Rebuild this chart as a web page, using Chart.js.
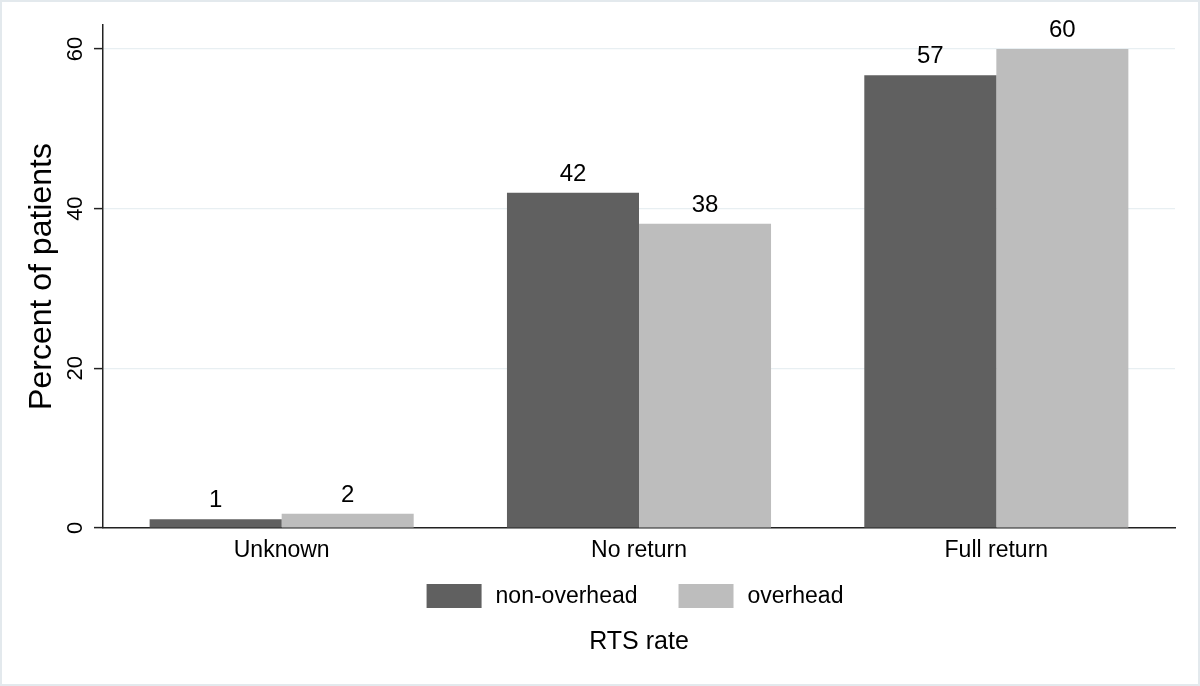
<!DOCTYPE html>
<html>
<head>
<meta charset="utf-8">
<script src="https://cdn.jsdelivr.net/npm/chart.js@4/dist/chart.umd.min.js"></script>
<style>
  html, body { margin: 0; padding: 0; background: #fff; }
</style>
</head>
<body>
<canvas id="rtsChart" width="1200" height="686"></canvas>
<script>
// RTS rate by group, percent of patients
const categories = ["Unknown", "No return", "Full return"];
const nonOverhead = [1.1, 42.0, 56.7];
const overhead = [1.8, 38.1, 60.0];
const yTicks = [0, 20, 40, 60];

const darkGrey = "#606060";
const lightGrey = "#bdbdbd";
const fontFamily = "'Liberation Sans', Arial, Helvetica, sans-serif";

Chart.defaults.font.family = fontFamily;
Chart.defaults.color = "#000";

// value labels above bars, rotated y tick labels, legend and frame
const extrasPlugin = {
    id: "extras",
    beforeDraw(chart) {
        const ctx = chart.ctx;
        ctx.save();
        ctx.strokeStyle = "#e3e9ed";
        ctx.lineWidth = 2;
        ctx.strokeRect(1, 1, chart.width - 2, chart.height - 2);
        ctx.restore();
    },
    afterDraw(chart) {
        const ctx = chart.ctx;
        const yScale = chart.scales.y;
        const area = chart.chartArea;

        // y tick labels, reading bottom to top
        ctx.save();
        ctx.font = "22px " + fontFamily;
        ctx.fillStyle = "#000";
        ctx.textAlign = "center";
        ctx.textBaseline = "middle";
        yScale.ticks.forEach(function (t) {
            const py = yScale.getPixelForValue(t.value);
            ctx.save();
            ctx.translate(area.left - 27, py);
            ctx.rotate(-Math.PI / 2);
            ctx.fillText(String(t.value), 0, 0);
            ctx.restore();
        });
        ctx.restore();

        // value labels
        ctx.save();
        ctx.font = "24px " + fontFamily;
        ctx.fillStyle = "#000";
        ctx.textAlign = "center";
        ctx.textBaseline = "alphabetic";
        chart.data.datasets.forEach(function (ds, i) {
            chart.getDatasetMeta(i).data.forEach(function (bar, j) {
                ctx.fillText(String(Math.round(ds.data[j])), bar.x, bar.y - 12);
            });
        });
        ctx.restore();

        // legend
        ctx.save();
        ctx.font = "23px " + fontFamily;
        ctx.textBaseline = "middle";
        ctx.textAlign = "left";
        const boxW = 55, boxH = 24, boxGap = 14, itemGap = 41;
        const items = chart.data.datasets.map(function (ds) {
            return { text: ds.label, color: ds.backgroundColor, w: ctx.measureText(ds.label).width };
        });
        let total = 0;
        items.forEach(function (it, k) { total += boxW + boxGap + it.w + (k > 0 ? itemGap : 0); });
        let lx = (area.left + area.right) / 2 - total / 2 - 4;
        const ly = area.bottom + 68;
        items.forEach(function (it) {
            ctx.fillStyle = it.color;
            ctx.fillRect(lx, ly - boxH / 2, boxW, boxH);
            ctx.fillStyle = "#000";
            ctx.fillText(it.text, lx + boxW + boxGap, ly + 1);
            lx += boxW + boxGap + it.w + itemGap;
        });
        ctx.restore();
    }
};

new Chart(document.getElementById("rtsChart"), {
    type: "bar",
    data: {
        labels: categories,
        datasets: [{
            label: "non-overhead",
            data: nonOverhead,
            backgroundColor: darkGrey
        },
        {
            label: "overhead",
            data: overhead,
            backgroundColor: lightGrey
        }]
    },
    options: {
        responsive: false,
        animation: false,
        devicePixelRatio: 1,
        categoryPercentage: 0.739,
        barPercentage: 1.0,
        layout: { padding: { top: 25, right: 25, left: 0, bottom: 0 } },
        plugins: {
            legend: { display: false },
            tooltip: { enabled: false }
        },
        scales: {
            x: {
                grid: { display: false, drawTicks: false, tickLength: 0 },
                border: { display: true, color: "#222", width: 1.5 },
                ticks: { font: { size: 23 }, color: "#000", padding: 9, maxRotation: 0 },
                title: {
                    display: true,
                    text: "RTS rate",
                    font: { size: 25 },
                    color: "#000",
                    padding: { top: 0, bottom: 29 }
                },
                afterFit: function (scale) { scale.height = 158; }
            },
            y: {
                min: 0,
                max: 63,
                afterBuildTicks: function (scale) {
                    scale.ticks = yTicks.map(function (v) { return { value: v }; });
                },
                grid: {
                    color: "#e8eff2",
                    lineWidth: 1.2,
                    drawTicks: true,
                    tickLength: 9,
                    tickColor: "#222",
                    tickWidth: 1.5
                },
                border: { display: true, color: "#222", width: 1.5 },
                ticks: { display: false },
                title: {
                    display: true,
                    text: "Percent of patients",
                    font: { size: 32 },
                    color: "#000",
                    padding: { top: 23, bottom: 0 }
                },
                afterFit: function (scale) { scale.width = 103; }
            }
        }
    },
    plugins: [extrasPlugin]
});
</script>
</body>
</html>
